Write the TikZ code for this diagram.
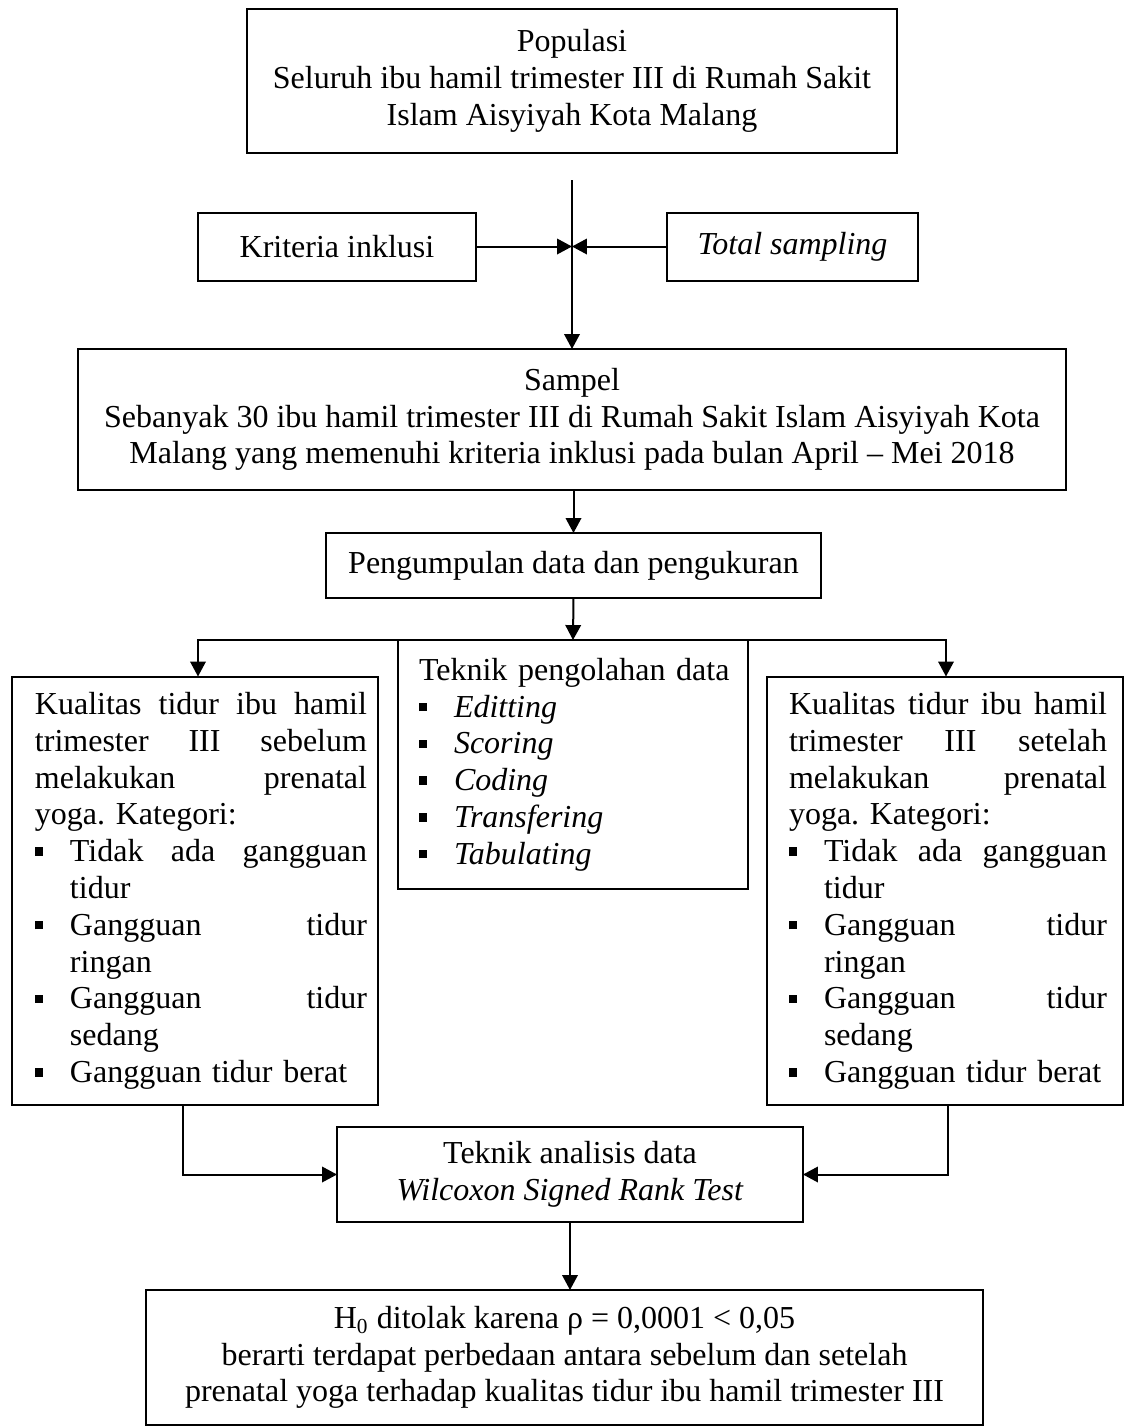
\documentclass[tikz,border=0pt]{standalone}
\usepackage{fontspec}
\setmainfont{Liberation Serif}
\usetikzlibrary{arrows.meta}
\newdimen\px \px=0.375pt
\newdimen\lmoff \lmoff=0pt
\newdimen\mylw \mylw=100pt
\newcommand\mysq{\rule[2.2pt]{3.1pt}{3.1pt}}
\newcommand\myjust[1]{\hspace*{\lmoff}\hbox to \dimexpr\mylw-\lmoff\relax{#1}}
\newcommand\mybul[1]{\hspace*{\lmoff}\hbox to 35\px{\mysq\hfil}\hbox to \dimexpr\mylw-\lmoff-35\px\relax{#1}}
\newcommand\mybulx[1]{\hspace*{\lmoff}\hbox to 35\px{\mysq\hfil}#1}
\newcommand\myplain[1]{\hspace*{\lmoff}#1}
\newcommand\myhang[1]{\hspace*{\dimexpr\lmoff+35\px\relax}#1}
\begin{document}
\begin{tikzpicture}[x=0.375pt,y=-0.375pt,
  every node/.style={font=\fontsize{12}{13.8}\selectfont\frenchspacing},
  box/.style={draw, line width=0.75pt, inner sep=0pt, outer sep=0pt, align=center},
  arr/.style={line width=0.75pt, -{Triangle[length=5.6pt,width=5.8pt]}}]
\useasboundingbox (0,0) rectangle (1125,1427);

\node[box, minimum width=650\px, minimum height=144\px] (pop) at (572,81)
  {Populasi\\Seluruh ibu hamil trimester III di Rumah Sakit\\Islam Aisyiyah Kota Malang};

\node[box, minimum width=278\px, minimum height=68\px] (krit) at (337,246.5) {Kriteria inklusi};
\node[box, minimum width=251\px, minimum height=68\px] (total) at (792.5,246.5) {\textit{Total sampling}};

\node[box, minimum width=988\px, minimum height=141\px] (sampel) at (572,419.5)
  {Sampel\\Sebanyak 30 ibu hamil trimester III di Rumah Sakit Islam Aisyiyah Kota\\Malang yang memenuhi kriteria inklusi pada bulan April -- Mei 2018};

\node[box, minimum width=495\px, minimum height=65\px] (peng) at (573.5,565.5) {Pengumpulan data dan pengukuran};

\node[box, align=left, text width=330\px, inner xsep=10\px, minimum height=249\px] (tek) at (573,764.5)
  {\lmoff=11\px
   \myplain{Teknik pengolahan data}\\
   \mybulx{\textit{Editting}}\\
   \mybulx{\textit{Scoring}}\\
   \mybulx{\textit{Coding}}\\
   \mybulx{\textit{Transfering}}\\
   \mybulx{\textit{Tabulating}}};

\node[box, align=left, text width=344\px, inner xsep=11\px, minimum height=428.5\px] (lbox) at (195,890.75)
  {\lmoff=12\px \mylw=344\px
   \myjust{Kualitas\hfill tidur\hfill ibu\hfill hamil}\\
   \myjust{trimester\hfill III\hfill sebelum}\\
   \myjust{melakukan\hfill prenatal}\\
   \myplain{yoga. Kategori:}\\
   \mybul{Tidak\hfill ada\hfill gangguan}\\
   \myhang{tidur}\\
   \mybul{Gangguan\hfill tidur}\\
   \myhang{ringan}\\
   \mybul{Gangguan\hfill tidur}\\
   \myhang{sedang}\\
   \mybulx{Gangguan tidur berat}};

\node[box, align=left, text width=324\px, inner xsep=16\px, minimum height=428.5\px] (rbox) at (945,890.75)
  {\lmoff=6\px \mylw=324\px
   \myjust{Kualitas\hfill tidur\hfill ibu\hfill hamil}\\
   \myjust{trimester\hfill III\hfill setelah}\\
   \myjust{melakukan\hfill prenatal}\\
   \myplain{yoga. Kategori:}\\
   \mybul{Tidak\hfill ada\hfill gangguan}\\
   \myhang{tidur}\\
   \mybul{Gangguan\hfill tidur}\\
   \myhang{ringan}\\
   \mybul{Gangguan\hfill tidur}\\
   \myhang{sedang}\\
   \mybulx{Gangguan tidur berat}};

\node[box, minimum width=466\px, minimum height=95\px] (ana) at (570,1174.5)
  {Teknik analisis data\\\textit{Wilcoxon Signed Rank Test}};

\node[box, minimum width=837\px, minimum height=135\px] (res) at (564.5,1357.5)
  {H\textsubscript{0} ditolak karena ρ = 0,0001 < 0,05\\
   berarti terdapat perbedaan antara sebelum dan setelah\\
   prenatal yoga terhadap kualitas tidur ibu hamil trimester III};

% connectors
\coordinate (vtop) at (572,180);
\draw[arr] (vtop) -- (vtop |- sampel.north);
\draw[arr] (krit.east) -- (krit.east -| vtop);
\draw[arr] (total.west) -- (total.west -| vtop);
\draw[arr] (sampel.south -| peng.north) -- (peng.north);
\draw[arr] (peng.south) -- (tek.north);
\coordinate (bl) at (198,640);
\coordinate (br) at (946,640);
\draw[arr] (tek.north west) -- (bl) -- (bl |- lbox.north);
\draw[arr] (tek.north east) -- (br) -- (br |- rbox.north);
\coordinate (cl) at (183,1174.5);
\coordinate (cr) at (948,1174.5);
\draw[arr] (lbox.south -| cl) -- (cl) -- (ana.west);
\draw[arr] (rbox.south -| cr) -- (cr) -- (ana.east);
\draw[arr] (ana.south) -- (res.north -| ana.south);
\end{tikzpicture}
\end{document}
